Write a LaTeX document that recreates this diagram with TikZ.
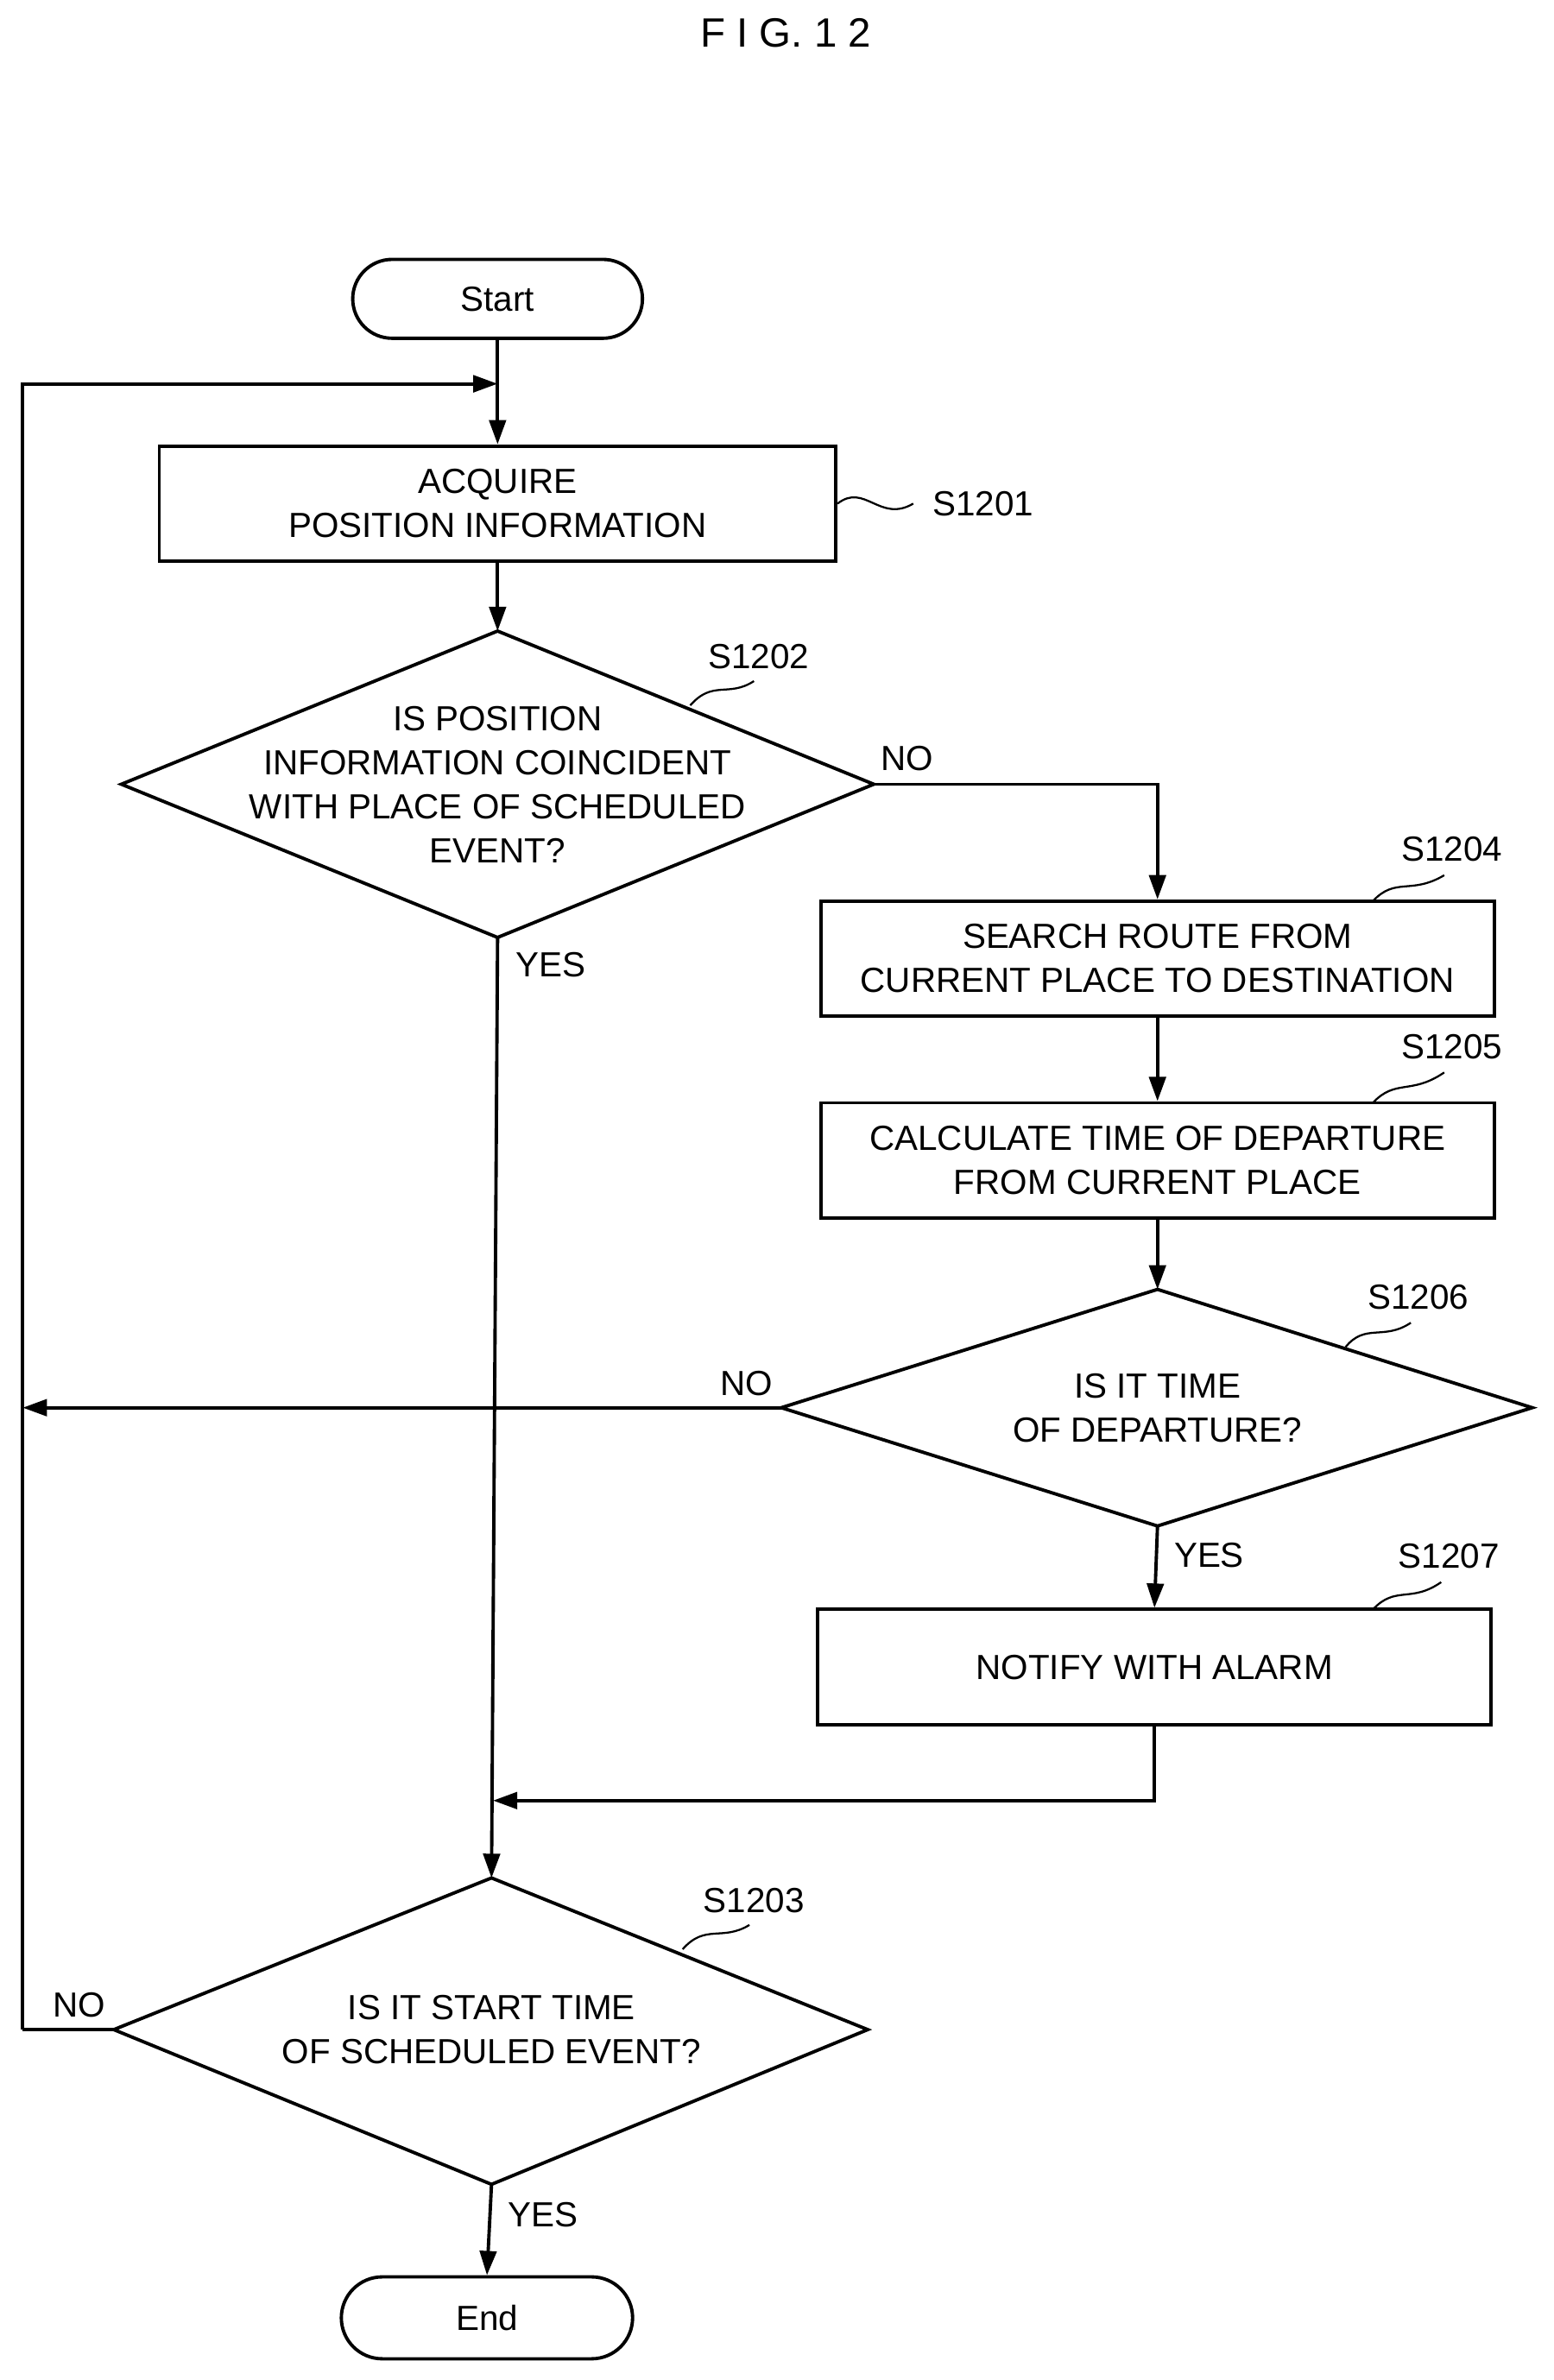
\documentclass[tikz,border=0pt]{standalone}
\usepackage{fontspec}
\setmainfont{Liberation Sans}
\usetikzlibrary{arrows.meta,shapes.misc}
\begin{document}
\begin{tikzpicture}[x=1pt,y=-1pt,line width=2.2pt,
 txt/.style={font=\fontsize{23}{29}\selectfont,align=center,inner sep=0},
 box/.style={draw,rectangle,inner sep=0},
 term/.style={draw,rounded rectangle,inner sep=0,font=\fontsize{23}{29}\selectfont},
 arr/.style={-{Triangle[length=16pt,width=11pt]}},
 lab/.style={font=\fontsize{23}{29}\selectfont,inner sep=0},
 sq/.style={line width=1.3pt}]
\useasboundingbox (0,0) rectangle (1024,1569);
\node[lab,font=\fontsize{27}{30}\selectfont] (title) at (518,22) {F I G. 1 2};
\node[term,minimum width=191pt,minimum height=52pt] (start) at (328,197) {Start};
\node[box,minimum width=446pt,minimum height=76pt,txt] (s1201) at (328,332) {ACQUIRE\\POSITION INFORMATION};
\node[lab] (l1201) at (648,332) {S1201};
\draw[sq] (s1201.east) .. controls (570,318) and (580,345) .. (602,332);
% diamond 1202
\coordinate (d2t) at (328,416); \coordinate (d2r) at (576,517);
\coordinate (d2b) at (328,618); \coordinate (d2l) at (80,517);
\draw (d2t)--(d2r)--(d2b)--(d2l)--cycle;
\node[txt] (t1202) at (328,517) {IS POSITION\\INFORMATION COINCIDENT\\WITH PLACE OF SCHEDULED\\EVENT?};
\node[lab] (l1202) at (500,433) {S1202};
\draw[sq] (455,465) .. controls (470,448) and (480,460) .. (497,449);
\node[lab] (no1) at (598,500) {NO};
\node[lab] (yes1) at (363,636) {YES};
\node[box,minimum width=444pt,minimum height=76pt,txt] (s1204) at (763,632) {SEARCH ROUTE FROM\\CURRENT PLACE TO DESTINATION};
\node[lab] (l1204) at (957,560) {S1204};
\draw[sq] (905,594) .. controls (920,578) and (930,590) .. (952,577);
\node[box,minimum width=444pt,minimum height=76pt,txt] (s1205) at (763,765) {CALCULATE TIME OF DEPARTURE\\FROM CURRENT PLACE};
\node[lab] (l1205) at (957,690) {S1205};
\draw[sq] (905,727) .. controls (920,711) and (930,722) .. (952,707);
% diamond 1206
\coordinate (d6t) at (763,850); \coordinate (d6r) at (1010,928);
\coordinate (d6b) at (763,1006); \coordinate (d6l) at (515,928);
\draw (d6t)--(d6r)--(d6b)--(d6l)--cycle;
\node[txt] (t1206) at (763,928) {IS IT TIME\\OF DEPARTURE?};
\node[lab] (l1206) at (935,855) {S1206};
\draw[sq] (887,888) .. controls (900,872) and (912,884) .. (930,872);
\node[lab] (no2) at (492,912) {NO};
\node[lab] (yes2) at (797,1025) {YES};
\node[box,minimum width=444pt,minimum height=76pt,txt] (s1207) at (761,1099) {NOTIFY WITH ALARM};
\node[lab] (l1207) at (955,1026) {S1207};
\draw[sq] (905,1061) .. controls (920,1045) and (930,1057) .. (950,1043);
% diamond 1203
\coordinate (d3t) at (324,1238); \coordinate (d3r) at (572,1338);
\coordinate (d3b) at (324,1440); \coordinate (d3l) at (75,1338);
\draw (d3t)--(d3r)--(d3b)--(d3l)--cycle;
\node[txt] (t1203) at (324,1338) {IS IT START TIME\\OF SCHEDULED EVENT?};
\node[lab] (l1203) at (497,1253) {S1203};
\draw[sq] (450,1285) .. controls (465,1268) and (476,1280) .. (494,1269);
\node[lab] (no3) at (52,1322) {NO};
\node[lab] (yes3) at (358,1460) {YES};
\node[term,minimum width=192pt,minimum height=54pt] (end) at (321,1528) {End};
% connectors
\coordinate (lp) at (328,253);
\coordinate (mg) at (325,1187);
\coordinate (lf) at (15,928);
\draw[arr] (start.south) -- (s1201.north);
\draw[arr] (15,1338) -- (15,253) -- (lp);
\draw (d3l) -- (15,1338);
\draw[arr] (s1201.south) -- (d2t);
\draw[arr] (d2r) -- (763,517) -- (s1204.north);
\draw[arr] (s1204.south) -- (s1205.north);
\draw[arr] (s1205.south) -- (d6t);
\draw[arr] (d6l) -- (lf);
\draw[arr] (d6b) -- (s1207.north);
\draw[arr] (s1207.south) -- (761,1187) -- (mg);
\draw[arr] (d2b) -- (d3t);
\draw[arr] (d3b) -- (end.north);
\end{tikzpicture}
\end{document}
